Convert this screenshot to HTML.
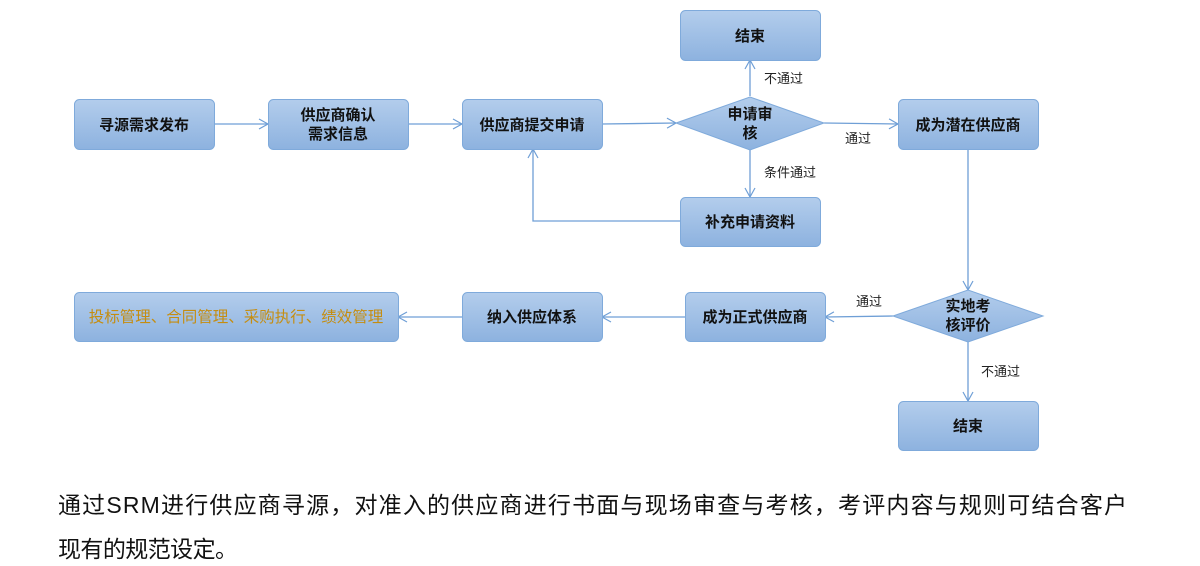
<!DOCTYPE html>
<html><head><meta charset="utf-8"><style>
html,body{margin:0;padding:0;background:#fff;}
svg{display:block;}
text{font-family:"Liberation Sans","Noto Sans CJK SC",sans-serif;}
.b{font-weight:bold;font-size:15px;fill:#111;text-anchor:middle;}
.l{font-size:13px;fill:#222;}
</style></head><body>
<svg width="1200" height="566" viewBox="0 0 1200 566" xmlns="http://www.w3.org/2000/svg">
<defs>
<linearGradient id="g" x1="0" y1="0" x2="0" y2="1">
<stop offset="0" stop-color="#b3cdec"/><stop offset="1" stop-color="#8db2df"/>
</linearGradient>
<marker id="a" markerWidth="12" markerHeight="12" refX="10" refY="6" orient="auto" markerUnits="userSpaceOnUse">
<path d="M1,1 L10,6 L1,11" fill="none" stroke="#6f9fd6" stroke-width="1.2"/>
</marker>
</defs>
<g stroke="#6f9fd6" stroke-width="1.3" fill="none">
<line x1="214" y1="124" x2="268" y2="124" marker-end="url(#a)"/>
<line x1="408" y1="124" x2="462" y2="124" marker-end="url(#a)"/>
<line x1="602" y1="124" x2="676" y2="123" marker-end="url(#a)"/>
<line x1="824" y1="123" x2="898" y2="124" marker-end="url(#a)"/>
<line x1="750" y1="96" x2="750" y2="60" marker-end="url(#a)"/>
<line x1="750" y1="150" x2="750" y2="197" marker-end="url(#a)"/>
<polyline points="680,221 533,221 533,149" marker-end="url(#a)"/>
<line x1="968" y1="149" x2="968" y2="290" marker-end="url(#a)"/>
<line x1="893" y1="316" x2="825" y2="317" marker-end="url(#a)"/>
<line x1="685" y1="317" x2="602" y2="317" marker-end="url(#a)"/>
<line x1="462" y1="317" x2="398" y2="317" marker-end="url(#a)"/>
<line x1="968" y1="342" x2="968" y2="401" marker-end="url(#a)"/>
</g>
<g fill="url(#g)" stroke="#7faadb" stroke-width="1">
<rect x="74.5" y="99.5" width="140" height="50" rx="5"/>
<rect x="268.5" y="99.5" width="140" height="50" rx="5"/>
<rect x="462.5" y="99.5" width="140" height="50" rx="5"/>
<rect x="680.5" y="10.5" width="140" height="50" rx="5"/>
<rect x="898.5" y="99.5" width="140" height="50" rx="5"/>
<rect x="680.5" y="197.5" width="140" height="49" rx="5"/>
<rect x="685.5" y="292.5" width="140" height="49" rx="5"/>
<rect x="462.5" y="292.5" width="140" height="49" rx="5"/>
<rect x="74.5" y="292.5" width="324" height="49" rx="5"/>
<rect x="898.5" y="401.5" width="140" height="49" rx="5"/>
<polygon points="676,123 750,97 824,123 750,150"/>
<polygon points="893,316 968,290 1043,316 968,342"/>
</g>
<text class="b" x="144" y="130">寻源需求发布</text>
<text class="b" x="338" y="120">供应商确认</text>
<text class="b" x="338" y="139">需求信息</text>
<text class="b" x="532" y="130">供应商提交申请</text>
<text class="b" x="750" y="41">结束</text>
<text class="b" x="750" y="119">申请审</text>
<text class="b" x="750" y="138">核</text>
<text class="b" x="968" y="130">成为潜在供应商</text>
<text class="b" x="750" y="227">补充申请资料</text>
<text class="b" x="968" y="311">实地考</text>
<text class="b" x="968" y="330">核评价</text>
<text class="b" x="755" y="322">成为正式供应商</text>
<text class="b" x="532" y="322">纳入供应体系</text>
<text x="236" y="322" style="font-size:15.5px;fill:#c58d10;text-anchor:middle">投标管理、合同管理、采购执行、绩效管理</text>
<text class="b" x="968" y="431">结束</text>
<text class="l" x="764" y="83">不通过</text>
<text class="l" x="845" y="143">通过</text>
<text class="l" x="764" y="177">条件通过</text>
<text class="l" x="856" y="306">通过</text>
<text class="l" x="981" y="376">不通过</text>
<text x="58" y="513" style="font-size:23px;fill:#111" textLength="1069" lengthAdjust="spacing">通过SRM进行供应商寻源，对准入的供应商进行书面与现场审查与考核，考评内容与规则可结合客户</text>
<text x="58" y="557" style="font-size:23px;fill:#111" textLength="180" lengthAdjust="spacing">现有的规范设定。</text>
</svg>
</body></html>
